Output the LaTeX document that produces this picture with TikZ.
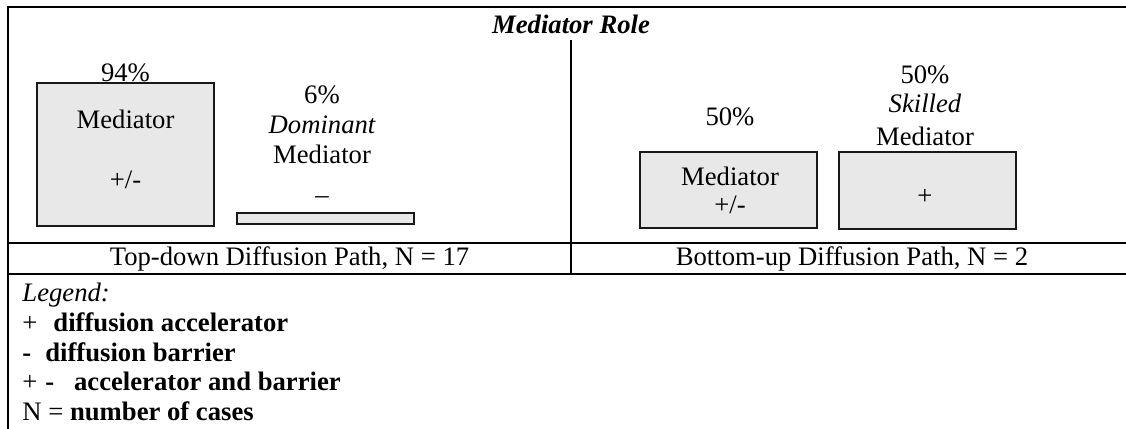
\documentclass[tikz,border=0pt]{standalone}
\usepackage{fontspec}
\setmainfont{Liberation Serif}
\usetikzlibrary{positioning}
\definecolor{boxgray}{RGB}{232, 232, 232}
\definecolor{dark}{RGB}{25, 25, 25}
\tikzset{
    rule/.style={line width=0.9pt, black},
    bar/.style={rectangle, draw=dark, line width=0.7pt, fill=boxgray, minimum width=79.65pt, inner sep=0pt},
    txt/.style={anchor=base, inner sep=0pt, font=\fontsize{12}{14}\selectfont},
    legline/.style={anchor=base west, inner sep=0pt, font=\fontsize{12}{14}\selectfont}
}

\begin{document}
\begin{tikzpicture}[x=0.45pt, y=-0.45pt]
        \useasboundingbox (0,0) rectangle (1126,428);
        % table rules
        \draw[rule, line cap=rect] (7.5,428) -- (7.5,6.5) -- (1126,6.5);
        \draw[rule] (7.5,243) -- (1126,243);
        \draw[rule] (7.5,274) -- (1126,274);
        \draw[rule] (571,40) -- (571,274);
        \node[txt, font=\fontsize{12}{14}\selectfont\bfseries\itshape] (title) at (571,33) {Mediator Role};

        % top-down side
        \node[bar, minimum height=64.35pt] (med) at (125.5,154.5) {};
        \node[txt] (medpct) at (125.5,81) {94\%};
        \node[txt] (medname) at (125.5,128) {Mediator};
        \node[txt] (medsign) at (125.5,188) {+/-};
        \node[bar, minimum height=4.95pt] (dom) at (325.5,218.5) {};
        \node[txt] (dompct) at (322,103) {6\%};
        \node[txt] (domkind) at (322,133) {\itshape Dominant};
        \node[txt] (domname) at (322,163) {Mediator};
        \node[txt] (domsign) at (322,203) {--};

        % bottom-up side
        \node[bar, minimum height=34.2pt] (med2) at (728.5,190) {};
        \node[txt] (med2pct) at (730,125) {50\%};
        \node[txt] (med2name) at (730,185) {Mediator};
        \node[txt] (med2sign) at (730,213) {+/-};
        \node[bar, minimum height=34.65pt] (skill) at (927.5,190.5) {};
        \node[txt] (skillpct) at (925,83) {50\%};
        \node[txt] (skillkind) at (925,112) {\itshape Skilled};
        \node[txt] (skillname) at (925,145) {Mediator};
        \node[txt] (skillsign) at (925,204) {+};

        % paths
        \node[txt] (topdown) at (289.5,265) {Top-down Diffusion Path, N = 17};
        \node[txt] (bottomup) at (852,265) {Bottom-up Diffusion Path, N = 2};

        % legend
        \node[legline] (leg) at (22,301) {\itshape Legend:};
        \node[legline] (legacc) at (22,331) {+\hspace{7.2pt}\textbf{diffusion accelerator}};
        \node[legline] (legbar) at (22,361) {\textbf{-}\hspace{6.3pt}\textbf{diffusion barrier}};
        \node[legline] (legboth) at (22,390) {+\hspace{3.5pt}\textbf{-}\hspace{9pt}\textbf{accelerator and barrier}};
        \node[legline] (legn) at (22,420) {N = \textbf{number of cases}};
    \end{tikzpicture}
\end{document}
